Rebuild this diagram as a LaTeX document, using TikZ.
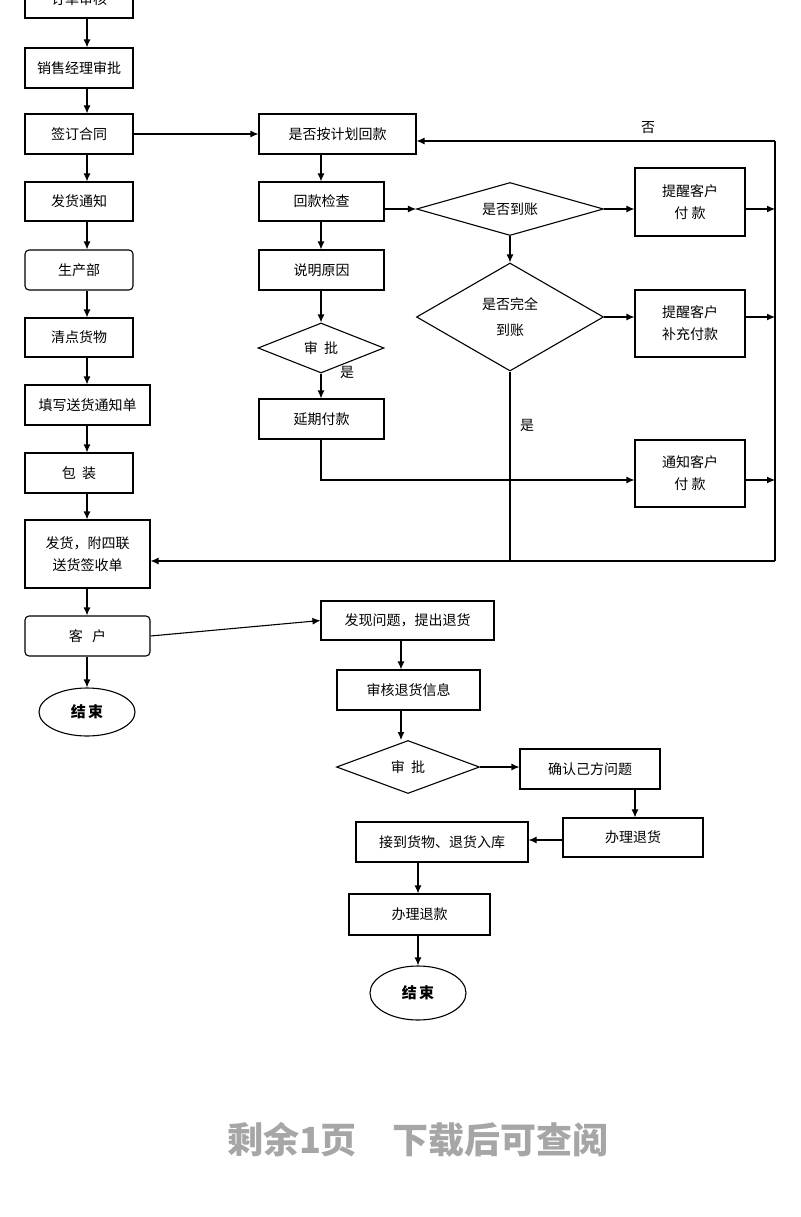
\documentclass[tikz,border=0pt]{standalone}
\usepackage{fontspec}
\setmainfont{Noto Sans CJK SC}
\usetikzlibrary{shapes.geometric,arrows.meta}
\begin{document}
\begin{tikzpicture}[x=1pt,y=-1pt,font=\fontsize{14}{22}\selectfont,
 box/.style={draw,line width=1.1pt,inner sep=0pt,align=center},
 dia/.style={draw,diamond,line width=1.1pt,inner sep=0pt,align=center,aspect=2},
 ell/.style={draw,ellipse,line width=1.1pt,inner sep=0pt,font=\fontsize{15}{17}\selectfont\bfseries},
 ar/.style={line width=1.1pt,-{Latex[length=8pt,width=7pt]}},
 ln/.style={line width=1.1pt}]
\useasboundingbox (0,0) rectangle (800,1217);
\def\bx#1#2#3#4#5#6{\node[box,minimum width=#4-#2,minimum height=#5-#3] (#1) at ({(#2+#4)/2},{(#3+#5)/2}) {#6};}
\bx{a0}{25}{-20}{133}{18}{订单审核}
\bx{a1}{25}{48}{133}{88}{销售经理审批}
\bx{a2}{25}{114}{133}{154}{签订合同}
\bx{a3}{25}{182}{133}{221}{发货通知}
\node[box,rounded corners=4pt,minimum width=108,minimum height=40] (a4) at (79,270) {生产部};
\bx{a5}{25}{318}{133}{357}{清点货物}
\bx{a6}{25}{385}{150}{425}{填写送货通知单}
\bx{a7}{25}{453}{133}{493}{包\ \ 装}
\bx{a8}{25}{520}{150}{588}{发货，附四联\\送货签收单}
\node[box,rounded corners=4pt,minimum width=125,minimum height=40] (a9) at (87.5,636) {客\ \ \ 户};
\node[ell,minimum width=96,minimum height=48] (e1) at (87,712) {结\,束};
\foreach \i/\j in {a0/a1,a1/a2,a2/a3,a3/a4,a4/a5,a5/a6,a6/a7,a7/a8,a8/a9,a9/e1}
  \draw[ar] (\i.south -| 87,0) -- (\j.north -| 87,0);
% middle
\bx{b1}{259}{114}{416}{154}{是否按计划回款}
\bx{b2}{259}{182}{384}{221}{回款检查}
\bx{b3}{259}{250}{384}{290}{说明原因}
\node[dia,minimum width=126,minimum height=50] (b4) at (321,348) {审\ \ 批};
\bx{b5}{259}{399}{384}{439}{延期付款}
\node[dia,minimum width=187,minimum height=53] (d1) at (510,209) {是否到账};
\node[dia,minimum width=187,minimum height=108,aspect=1.7] (d2) at (510,317) {是否完全\\[4pt]到账};
\bx{r1}{635}{168}{745}{236}{提醒客户\\付\ 款}
\bx{r2}{635}{290}{745}{357}{提醒客户\\补充付款}
\bx{r3}{635}{440}{745}{507}{通知客户\\付\ 款}
\draw[ar] (a2.east) -- (b1.west);
\draw[ar] (b1.south -| 321,0) -- (b2.north -| 321,0);
\draw[ar] (b2.south -| 321,0) -- (b3.north -| 321,0);
\draw[ar] (b3.south -| 321,0) -- (b4.north);
\draw[ar] (b4.south) -- (b5.north -| 321,0);
\draw[ar] (b2.east |- d1.west) -- (d1.west);
\draw[ar] (d1.east) -- (r1.west |- d1.east);
\draw[ar] (d1.south) -- (d2.north);
\draw[ar] (d2.east) -- (r2.west |- d2.east);
\coordinate (c1) at (321,480);
\draw[ar] (b5.south -| 321,0) -- (c1) -- (r3.west |- c1);
\coordinate (t) at (775,141); \coordinate (bt) at (775,561);
\draw[ln] (t) -- (bt);
\draw[ar] (t) -- (b1.east |- t);
\draw[ar] (r1.east |- 0,209) -- (775,209);
\draw[ar] (r2.east |- 0,317) -- (775,317);
\draw[ar] (r3.east |- 0,480) -- (775,480);
\draw[ar] (bt) -- (a8.east |- bt);
\draw[ln] (d2.south) -- (510,561);
\node at (648,128) {否};
\node at (347,372) {是};
\node at (527,425) {是};
% lower
\bx{c1b}{321}{601}{494}{640}{发现问题，提出退货}
\bx{c2}{337}{670}{480}{710}{审核退货信息}
\node[dia,minimum width=143,minimum height=53] (c3) at (408,767) {审\ \ 批};
\bx{c4}{520}{749}{660}{789}{确认己方问题}
\bx{c5}{563}{818}{703}{857}{办理退货}
\bx{c6}{356}{822}{528}{862}{接到货物、退货入库}
\bx{c7}{349}{894}{490}{935}{办理退款}
\node[ell,minimum width=96,minimum height=54] (e2) at (418,993) {结\,束};
\draw[ar] (a9.east) -- (c1b.west);
\draw[ar] (c1b.south -| 401,0) -- (c2.north -| 401,0);
\draw[ar] (c2.south -| 401,0) -- (401,740);
\draw[ar] (c3.east) -- (c4.west |- c3.east);
\draw[ar] (c4.south -| 635,0) -- (c5.north -| 635,0);
\draw[ar] (c5.west |- 0,840) -- (c6.east |- 0,840);
\draw[ar] (c6.south -| 418,0) -- (c7.north -| 418,0);
\draw[ar] (c7.south -| 418,0) -- (e2.north);
\node[text=gray!70,font=\fontsize{36}{40}\selectfont\bfseries] (w) at (418,1140) {剩余1页\quad 下载后可查阅};
\end{tikzpicture}
\end{document}
